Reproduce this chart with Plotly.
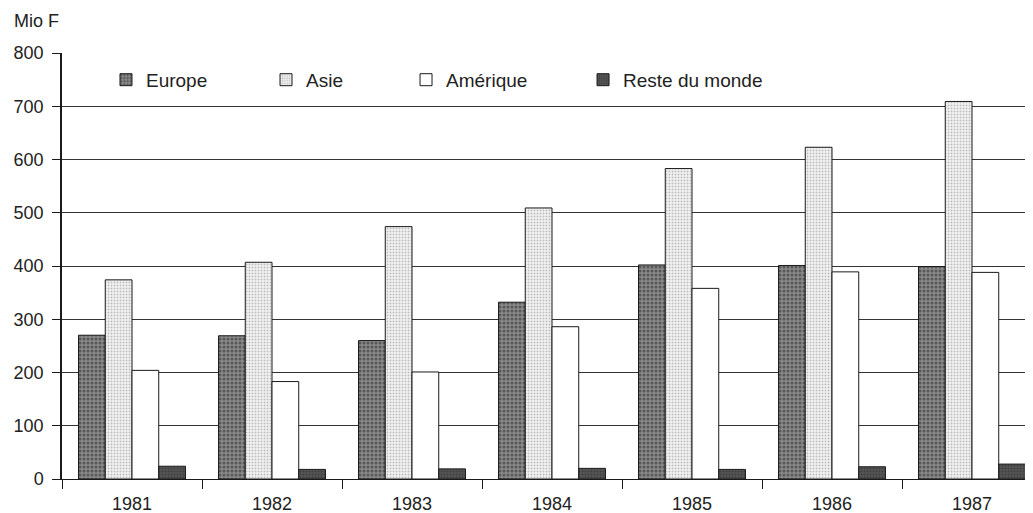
import plotly.graph_objects as go

years = ["1981", "1982", "1983", "1984", "1985", "1986", "1987"]
europe = [270, 269, 260, 332, 402, 401, 399]
asie = [374, 407, 474, 509, 583, 623, 709]
amerique = [204, 183, 201, 286, 358, 389, 388]
reste = [24, 18, 19, 20, 18, 23, 28]
y_ticks = [0, 100, 200, 300, 400, 500, 600, 700, 800]

FONT = "Liberation Sans, Arial, sans-serif"
TXT = "#222222"

fig = go.Figure()
series = [
    ("Europe", europe, dict(shape=".", bgcolor="#8a8a8a", fgcolor="#262626", size=4, solidity=0.45), "legend", 0.0453),
    ("Asie", asie, dict(shape=".", bgcolor="#f2f2f2", fgcolor="#8a8a8a", size=3, solidity=0.35), "legend2", 0.2101),
    ("Amérique", amerique, None, "legend3", 0.3543),
    ("Reste du monde", reste, dict(shape=".", bgcolor="#555555", fgcolor="#2a2a2a", size=3, solidity=0.4), "legend4", 0.5366),
]
legends = {}
for name, vals, pat, leg, lx in series:
    marker = dict(color="white", line=dict(color="#1a1a1a", width=1))
    if pat is not None:
        marker["pattern"] = pat
    fig.add_trace(go.Bar(name=name, x=years, y=vals, marker=marker, legend=leg))
    legends[leg] = dict(
        orientation="h", x=lx, xanchor="left", y=0.937, yanchor="middle",
        bgcolor="rgba(255,255,255,0)", font=dict(size=19, color=TXT),
    )

# page body has an 8px margin: figure is sized/placed to compensate
fig.update_layout(
    width=1025, height=505,
    margin=dict(l=54, r=0, t=45, b=34),
    paper_bgcolor="white", plot_bgcolor="white",
    barmode="group", bargap=0.236, bargroupgap=0,
    font=dict(family=FONT, size=18, color=TXT),
    showlegend=True,
    annotations=[dict(
        text="Mio F", xref="paper", yref="paper", x=-0.0515, y=1.075,
        xanchor="left", yanchor="middle", showarrow=False,
        font=dict(size=18, color=TXT),
    )],
    **legends,
)
fig.update_xaxes(
    type="category", range=[-0.5, -0.5 + 971 / 140],
    showline=True, linecolor="#1a1a1a", linewidth=1,
    ticks="outside", tickson="boundaries", ticklen=9, tickcolor="#1a1a1a",
    ticklabelstandoff=8,
    showgrid=False, tickfont=dict(size=18, color=TXT),
)
fig.update_yaxes(
    range=[0, 800], tickvals=y_ticks,
    showline=True, linecolor="#1a1a1a", linewidth=1.5,
    ticks="outside", ticklen=8, tickcolor="#1a1a1a",
    ticklabelstandoff=5,
    showgrid=True, gridcolor="#333333", gridwidth=1,
    zeroline=False, tickfont=dict(size=18, color=TXT),
)

fig.write_html("out.html")
